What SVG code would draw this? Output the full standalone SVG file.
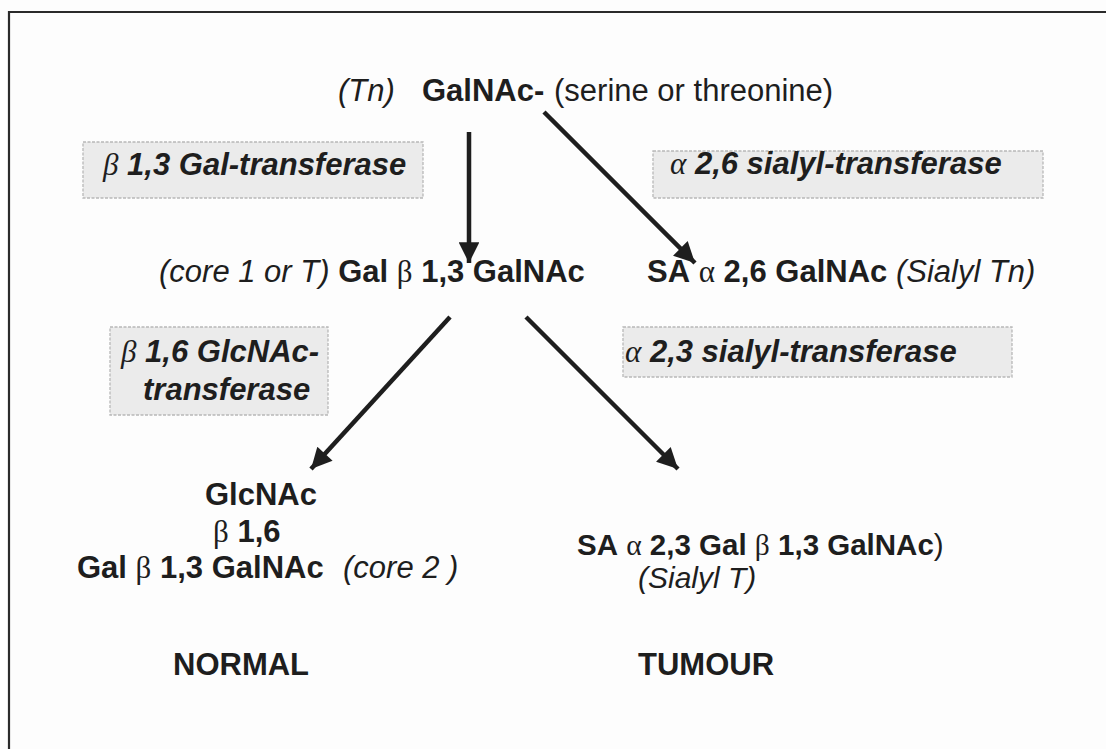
<svg xmlns="http://www.w3.org/2000/svg" width="1106" height="749" viewBox="0 0 1106 749">
<style>
text{font-family:"Liberation Sans",Arial,sans-serif;font-size:31px;fill:#1e1e1e}
.b{font-weight:bold}
.i{font-style:italic}
.bi{font-weight:bold;font-style:italic}
.g{font-family:"Liberation Serif","Times New Roman",serif;font-weight:normal}
.gi{font-family:"Liberation Serif","Times New Roman",serif;font-weight:normal;font-style:italic}
.box{fill:#ebebeb;stroke:#b8b8b8;stroke-width:1.3;stroke-dasharray:3 1.5}
.arr{stroke:#1e1e1e;stroke-width:4.5;fill:none;marker-end:url(#ah)}
</style>
<defs>
<marker id="ah" viewBox="0 0 10 10" refX="10" refY="5" markerWidth="5.4" markerHeight="4.6" orient="auto" markerUnits="strokeWidth">
<path d="M0,0 L10,5 L0,10 z" fill="#1e1e1e"/>
</marker>
</defs>
<rect width="1106" height="749" fill="#fdfdfd"/>
<g id="frame">
<path d="M9,749 V12 H1106" fill="none" stroke="#2a2a2a" stroke-width="2.2"/>
</g>
<g id="connectors">
<line class="arr" x1="469" y1="132" x2="469" y2="263"/>
<line class="arr" x1="544" y1="112" x2="695" y2="263"/>
<line class="arr" x1="450" y1="317" x2="311" y2="469"/>
<line class="arr" x1="526" y1="317" x2="678" y2="469"/>
</g>
<g id="tn">
<text y="101"><tspan class="i" x="338">(Tn)</tspan><tspan class="b" x="422">GalNAc-</tspan><tspan x="554">(serine or threonine)</tspan></text>
</g>
<g id="enzyme-b13">
<rect class="box" x="83" y="142" width="340" height="56"/>
<text x="103" y="175" class="bi"><tspan class="gi">β</tspan> 1,3 Gal-transferase</text>
</g>
<g id="enzyme-a26">
<rect class="box" x="653" y="151" width="390" height="47"/>
<text x="670" y="174" class="bi"><tspan class="gi">α</tspan> 2,6 sialyl-transferase</text>
</g>
<g id="core1">
<text x="159" y="282"><tspan class="i">(core 1 or T)</tspan> <tspan class="b">Gal</tspan> <tspan class="g">β</tspan> <tspan class="b">1,3 GalNAc</tspan></text>
</g>
<g id="sialyl-tn">
<text x="647" y="282"><tspan class="b">SA</tspan> <tspan class="g">α</tspan> <tspan class="b">2,6 GalNAc</tspan> <tspan class="i">(Sialyl Tn)</tspan></text>
</g>
<g id="enzyme-b16">
<rect class="box" x="110" y="327" width="218" height="88"/>
<text x="121" y="362" class="bi"><tspan class="gi">β</tspan> 1,6 GlcNAc-</text>
<text x="143" y="400" class="bi">transferase</text>
</g>
<g id="enzyme-a23">
<rect class="box" x="623" y="327" width="389" height="50"/>
<text x="625" y="362" class="bi"><tspan class="gi">α</tspan> 2,3 sialyl-transferase</text>
</g>
<g id="core2">
<text x="205" y="505" class="b">GlcNAc</text>
<text x="213" y="542"><tspan class="g">β</tspan> <tspan class="b">1,6</tspan></text>
<text x="77" y="578"><tspan class="b">Gal</tspan> <tspan class="g">β</tspan> <tspan class="b">1,3 GalNAc</tspan><tspan class="i" x="343">(core 2 )</tspan></text>
</g>
<g id="sialyl-t">
<text x="577" y="555" style="font-size:29.5px"><tspan class="b">SA</tspan> <tspan class="g">α</tspan> <tspan class="b">2,3 Gal</tspan> <tspan class="g">β</tspan> <tspan class="b">1,3 GalNAc</tspan>)</text>
<text x="638" y="588" class="i" style="font-size:30px">(Sialyl T)</text>
</g>
<g id="labels">
<text x="173" y="675" class="b">NORMAL</text>
<text x="638" y="675" class="b">TUMOUR</text>
</g>
</svg>
